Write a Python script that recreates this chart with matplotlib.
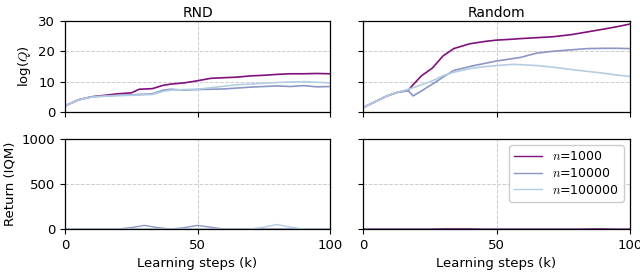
import numpy as np
import matplotlib
matplotlib.use("Agg")
import matplotlib.pyplot as plt

plt.rcParams['mathtext.fontset'] = 'cm'
plt.rcParams['font.size'] = 9.5

labels = [r'$n$=1000', r'$n$=10000', r'$n$=100000']
colors = ['#810f7c', '#8c96c6', '#b3cde3']

# log(Q) for RND
rnd_x = [0, 5, 10, 15, 20, 25, 28, 33, 37, 40, 45, 50, 55, 60, 65, 70, 75, 80, 85, 90, 95, 100]
rnd_q = [
    [2, 4, 5, 5.5, 6, 6.3, 7.5, 7.7, 8.8, 9.2, 9.6, 10.3, 11.1, 11.3, 11.5, 11.9, 12.1, 12.4, 12.6, 12.6, 12.7, 12.6],
    [2, 4, 5, 5.3, 5.5, 5.6, 5.8, 6.0, 7.2, 7.5, 7.2, 7.4, 7.5, 7.6, 7.9, 8.2, 8.4, 8.6, 8.4, 8.7, 8.3, 8.4],
    [2, 4, 4.9, 5.2, 5.4, 5.5, 5.6, 5.8, 6.8, 7.2, 7.4, 7.5, 8.0, 8.5, 9.0, 9.2, 9.5, 9.7, 9.9, 10.0, 9.8, 9.6],
]

# log(Q) for Random
ran_x = [0, 5, 9, 13, 17, 18.75, 22, 26, 30, 34, 40, 46, 50, 56, 59, 65, 71, 78, 84, 90, 95, 100]
ran_q = [
    [1.4, 3.6, 5.3, 6.5, 7.2, 9.0, 12.0, 14.5, 18.5, 20.9, 22.5, 23.3, 23.7, 24.0, 24.2, 24.5, 24.8, 25.5, 26.4, 27.3, 28.1, 29.0],
    [1.4, 3.6, 5.3, 6.5, 7.0, 5.3, 7.0, 9.2, 11.5, 13.7, 15.0, 16.1, 16.8, 17.6, 18.0, 19.4, 20.0, 20.5, 20.9, 21.0, 21.0, 20.9],
    [1.4, 3.6, 5.3, 6.5, 7.5, 8.0, 9.0, 10.3, 12.0, 13.1, 14.3, 15.0, 15.3, 15.7, 15.6, 15.3, 14.8, 14.0, 13.4, 12.8, 12.2, 11.7],
]

# Return (IQM)
ret_x = [0, 10, 20, 25, 30, 35, 40, 45, 50, 55, 60, 65, 70, 75, 80, 85, 90, 95, 100]
rnd_ret = [
    [0, 0, 0, 0, 0, 0, 0, 0, 0, 0, 0, 0, 0, 0, 0, 0, 0, 0, 0],
    [0, 0, 0, 15, 40, 15, 0, 15, 40, 20, 0, 0, 0, 0, 0, 0, 0, 0, 0],
    [0, 0, 0, 0, 0, 0, 0, 0, 0, 0, 0, 0, 0, 20, 50, 20, 0, 0, 0],
]
ran_ret = [
    [0, 0, 0, 0, 4, 4, 4, 0, 0, 0, 0, 0, 0, 0, 0, 3, 4, 0, 0],
    [0, 0, 0, 0, 0, 0, 0, 0, 0, 0, 0, 0, 0, 0, 0, 0, 0, 0, 0],
    [0, 0, 0, 0, 0, 0, 0, 0, 0, 0, 0, 0, 0, 0, 0, 0, 0, 0, 0],
]

fig = plt.figure(figsize=(6.4, 2.77), dpi=100)
W, H = 640, 277
ax_tl = fig.add_axes([65 / W, (H - 112) / H, 265 / W, 91 / H])
ax_tr = fig.add_axes([363 / W, (H - 112) / H, 267 / W, 91 / H])
ax_bl = fig.add_axes([65 / W, (H - 229) / H, 265 / W, 90 / H])
ax_br = fig.add_axes([363 / W, (H - 229) / H, 267 / W, 90 / H])

for i in range(3):
    ax_tl.plot(rnd_x, rnd_q[i], color=colors[i], lw=1.2)
    ax_tr.plot(ran_x, ran_q[i], color=colors[i], lw=1.2)
    ax_bl.plot(ret_x, rnd_ret[i], color=colors[i], lw=1.0)
    ax_br.plot(ret_x, ran_ret[i], color=colors[i], lw=1.0, label=labels[i])

for ax in [ax_tl, ax_tr, ax_bl, ax_br]:
    ax.set_xlim(0, 100)
    ax.set_xticks([0, 50, 100])
    ax.grid(True, ls='--', color='#cccccc', lw=0.7)
    ax.tick_params(direction='out', length=3.5, width=0.8)
    for s in ax.spines.values():
        s.set_linewidth(0.9)

for ax in [ax_tl, ax_tr]:
    ax.set_ylim(0, 30)
    ax.set_yticks([0, 10, 20, 30])
    ax.set_xticklabels([])
for ax in [ax_bl, ax_br]:
    ax.set_ylim(0, 1000)
    ax.set_yticks([0, 500, 1000])
    ax.set_xlabel('Learning steps (k)')
ax_tr.set_yticklabels([])
ax_br.set_yticklabels([])

ax_tl.set_title('RND', fontsize=10, pad=3)
ax_tr.set_title('Random', fontsize=10, pad=3)
ax_tl.set_ylabel(r'log($Q$)')
ax_bl.set_ylabel('Return (IQM)')

ax_br.legend(loc='upper right', fontsize=9, framealpha=1, edgecolor='#cccccc',
             handlelength=2.2, borderpad=0.4, labelspacing=0.3)

fig.savefig('out.png', dpi=100)
